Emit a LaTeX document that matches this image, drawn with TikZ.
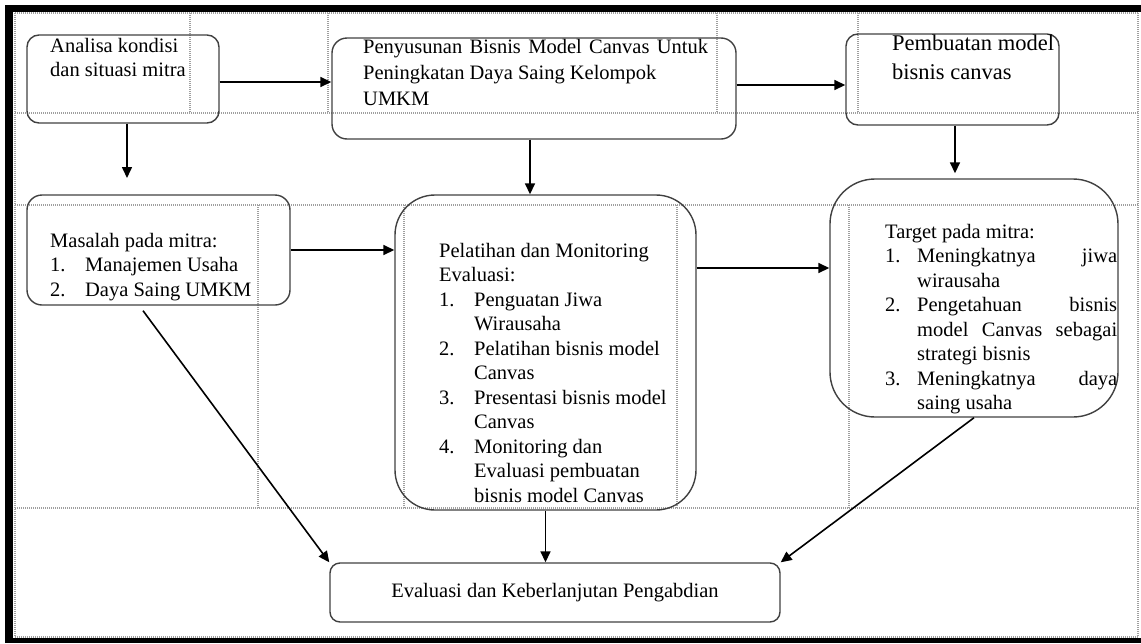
\documentclass[tikz,border=0pt]{standalone}
\usepackage{fontspec}
\setmainfont{Liberation Serif}
\usetikzlibrary{arrows.meta}
\newlength\itmind
\setlength\itmind{35pt}
\newcommand\itm[2]{\par\noindent\hangindent=\itmind\hangafter=1\makebox[\itmind][l]{#1}#2}
\begin{document}
\begin{tikzpicture}[x=1pt,y=-1pt,
  grid/.style={gray!75, line width=1.2pt, dash pattern=on 1pt off 1pt},
  box/.style={draw=black!75, line width=1.4pt, inner sep=0pt},
  arr/.style={draw=black, line width=1.6pt, -{Triangle[length=11pt,width=10pt]}},
  txt/.style={anchor=base west, inner sep=0pt, font=\fontsize{20.5}{24.5}\selectfont},
]
\useasboundingbox (0,0) rectangle (1141,643);
% table grid
\draw[grid] (15,13) -- (1138,13) (15,113) -- (1138,113) (15,205) -- (1138,205) (15,508) -- (1138,508) (15,637) -- (1138,637);
\draw[grid] (15,13) -- (15,637) (1138,13) -- (1138,637);
\draw[grid] (190,13) -- (190,113) (328,13) -- (328,113) (717,13) -- (717,113) (858,13) -- (858,113);
\draw[grid] (258,205) -- (258,508) (404,205) -- (404,508) (677,205) -- (677,508) (849,205) -- (849,508);
% boxes
\node[box, rounded corners=12pt, minimum width=192pt, minimum height=88pt] (A) at (123,79) {};
\node[box, rounded corners=15pt, minimum width=404pt, minimum height=101pt] (B) at (534,88.5) {};
\node[box, rounded corners=12pt, minimum width=213pt, minimum height=91pt] (C) at (952.5,79.5) {};
\node[box, rounded corners=15pt, minimum width=263pt, minimum height=110pt] (D) at (158.5,250) {};
\node[box, rounded corners=40pt, minimum width=301pt, minimum height=315pt] (E) at (545.5,352.5) {};
\node[box, rounded corners=45pt, minimum width=288pt, minimum height=238pt] (F) at (974,298) {};
\node[box, rounded corners=10pt, minimum width=450pt, minimum height=59pt, font=\fontsize{20.5}{24.5}\selectfont] (G) at (555,592.5) {Evaluasi dan Keberlanjutan Pengabdian};
% texts
\node[txt] (tA) at (50,52) {\begin{minipage}[t]{180pt}\raggedright Analisa kondisi\\dan situasi mitra\end{minipage}};
\node[txt, font=\fontsize{20.5}{26}\selectfont] (tB) at (363,53) {\begin{minipage}[t]{345pt}Penyusunan Bisnis Model Canvas Untuk\linebreak Peningkatan Daya Saing Kelompok\\UMKM\end{minipage}};
\node[txt, font=\fontsize{22.5}{29}\selectfont] (tC) at (892,50) {\begin{minipage}[t]{200pt}\raggedright Pembuatan model\\bisnis canvas\end{minipage}};
\node[txt] (tD) at (50,247) {\begin{minipage}[t]{240pt}Masalah pada mitra:\itm{1.}{Manajemen Usaha}\itm{2.}{Daya Saing UMKM}\end{minipage}};
\node[txt] (tE) at (439,257) {\begin{minipage}[t]{250pt}Pelatihan dan Monitoring\\Evaluasi:\itm{1.}{Penguatan Jiwa\\Wirausaha}\itm{2.}{Pelatihan bisnis model\\Canvas}\itm{3.}{Presentasi bisnis model\\Canvas}\itm{4.}{Monitoring dan\\Evaluasi pembuatan\\bisnis model Canvas}\end{minipage}};
\node[txt] (tF) at (885,238) {\begin{minipage}[t]{232pt}\sloppy\setlength\itmind{32pt}Target pada mitra:\itm{1.}{Meningkatnya jiwa\linebreak wirausaha}\itm{2.}{Pengetahuan bisnis\linebreak model Canvas sebagai\linebreak strategi bisnis}\itm{3.}{Meningkatnya daya\linebreak saing usaha}\end{minipage}};
% connectors
\coordinate (a1) at (127,178);
\draw[arr] ([yshift=-3pt]A.east) -- ([yshift=-3pt]A.east -| B.west);
\draw[arr] ([yshift=3.5pt]B.east) -- ([yshift=3.5pt]B.east -| C.west);
\draw[arr] (A.south -| a1) -- (a1);
\draw[arr] ([xshift=-4pt]B.south) -- ([xshift=-4pt]B.south |- E.north);
\draw[arr, shorten >=5pt] ([xshift=2.5pt]C.south) -- ([xshift=2.5pt]C.south |- F.north);
\draw[arr] (D.east) -- (D.east -| E.west);
\draw[arr] ([yshift=84.5pt]E.east) -- ([yshift=84.5pt]E.east -| F.west);
\draw[arr] ([xshift=-15.5pt,yshift=-5pt]D.south) -- (G.north west);
\draw[arr] (E.south) -- (E.south |- G.north);
\draw[arr] (F.south) -- (G.north east);
% thick frame
\fill[black] (5,5) rectangle (1141,12);
\fill[black] (5,5) rectangle (13,643);
\fill[black] (5,638) rectangle (1141,643);
\end{tikzpicture}
\end{document}
